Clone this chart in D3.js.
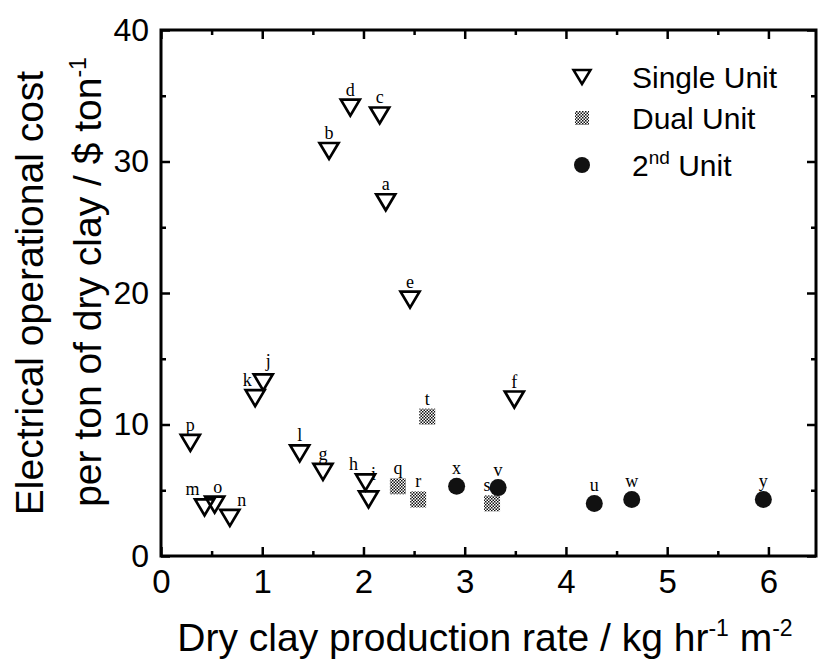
<!DOCTYPE html>
<html>
<head>
<meta charset="utf-8">
<script src="https://cdn.jsdelivr.net/npm/d3@7"></script>
<style>
  body { margin: 0; background: #fff; }
  text { font-family: "Liberation Sans", Arial, sans-serif; fill: #000; }
</style>
</head>
<body>
<div id="chart"></div>
<script>
// values
var singleLabels = ["a", "b", "c", "d", "e", "f", "g", "h", "i", "j", "k", "l", "m", "n", "o", "p"];
var singleX = [2.22, 1.66, 2.16, 1.87, 2.46, 3.49, 1.60, 2.02, 2.05, 1.01, 0.93, 1.37, 0.43, 0.68, 0.53, 0.29];
var singleY = [26.9, 30.8, 33.5, 34.1, 19.5, 11.9, 6.4, 5.6, 4.3, 13.2, 12.0, 7.8, 3.7, 2.9, 3.9, 8.6];

var dualLabels = ["q", "r", "s", "t"];
var dualX = [2.34, 2.54, 3.27, 2.63];
var dualY = [5.3, 4.3, 4.0, 10.6];

var secondLabels = ["u", "v", "w", "x", "y"];
var secondX = [4.28, 3.33, 4.65, 2.92, 5.95];
var secondY = [4.0, 5.2, 4.3, 5.3, 4.3];

var xTicks = [0, 1, 2, 3, 4, 5, 6];
var xMinor = [0.5, 1.5, 2.5, 3.5, 4.5, 5.5];
var yTicks = [0, 10, 20, 30, 40];
var yMinor = [5, 15, 25, 35];

var legendNames = ["Single Unit", "Dual Unit", "2nd Unit"];

// set the dimensions and margins of the graph
var margin = {top: 30, right: 2, bottom: 114, left: 161},
    width = 818 - margin.left - margin.right,
    height = 670 - margin.top - margin.bottom;

var svgRoot = d3.select("#chart")
  .append("svg")
    .attr("width", 818)
    .attr("height", 670);

var defs = svgRoot.append("defs");
var pat = defs.append("pattern")
    .attr("id", "checker")
    .attr("width", 3)
    .attr("height", 3)
    .attr("patternUnits", "userSpaceOnUse");
pat.append("rect").attr("width", 3).attr("height", 3).attr("fill", "#fff");
pat.append("rect").attr("width", 1.5).attr("height", 1.5).attr("fill", "#111");
pat.append("rect").attr("x", 1.5).attr("y", 1.5).attr("width", 1.5).attr("height", 1.5).attr("fill", "#111");

var svg = svgRoot.append("g")
    .attr("transform", "translate(" + margin.left + "," + margin.top + ")");

var x = d3.scaleLinear().domain([0, 6.47]).range([0, width]);
var y = d3.scaleLinear().domain([0, 40]).range([height, 0]);

// axes, ticks pointing inwards on all four sides
function styleAxis(g) {
  g.select(".domain").remove();
  g.selectAll("line").attr("stroke", "#000").attr("stroke-width", 2.5);
}

svg.append("g")
    .attr("transform", "translate(0," + height + ")")
    .call(d3.axisBottom(x).tickValues(xTicks).tickFormat(d3.format("d")).tickSizeInner(-9).tickSizeOuter(0).tickPadding(14))
    .call(styleAxis)
    .selectAll("text").style("font-size", "33px");
svg.append("g")
    .attr("transform", "translate(0," + height + ")")
    .call(d3.axisBottom(x).tickValues(xMinor).tickSizeInner(-5).tickSizeOuter(0).tickFormat(""))
    .call(styleAxis);
svg.append("g")
    .call(d3.axisTop(x).tickValues(xTicks).tickSizeInner(-9).tickSizeOuter(0).tickFormat(""))
    .call(styleAxis);
svg.append("g")
    .call(d3.axisTop(x).tickValues(xMinor).tickSizeInner(-5).tickSizeOuter(0).tickFormat(""))
    .call(styleAxis);

svg.append("g")
    .call(d3.axisLeft(y).tickValues(yTicks).tickSizeInner(-9).tickSizeOuter(0).tickPadding(12))
    .call(styleAxis)
    .selectAll("text").style("font-size", "32px");
svg.append("g")
    .call(d3.axisLeft(y).tickValues(yMinor).tickSizeInner(-5).tickSizeOuter(0).tickFormat(""))
    .call(styleAxis);
svg.append("g")
    .attr("transform", "translate(" + width + ",0)")
    .call(d3.axisRight(y).tickValues(yTicks).tickSizeInner(-9).tickSizeOuter(0).tickFormat(""))
    .call(styleAxis);
svg.append("g")
    .attr("transform", "translate(" + width + ",0)")
    .call(d3.axisRight(y).tickValues(yMinor).tickSizeInner(-5).tickSizeOuter(0).tickFormat(""))
    .call(styleAxis);

// frame
svg.append("rect")
    .attr("width", width)
    .attr("height", height)
    .attr("fill", "none")
    .attr("stroke", "#000")
    .attr("stroke-width", 3);

// axis titles
var xTitle = svgRoot.append("text")
    .attr("x", 485)
    .attr("y", 651)
    .attr("text-anchor", "middle")
    .style("font-size", "39px");
xTitle.append("tspan").text("Dry clay production rate / kg hr");
xTitle.append("tspan").attr("dy", -15).style("font-size", "23px").text("-1");
xTitle.append("tspan").attr("dy", 15).text(" m");
xTitle.append("tspan").attr("dy", -15).style("font-size", "23px").text("-2");

svgRoot.append("text")
    .attr("transform", "translate(43,293) rotate(-90)")
    .attr("text-anchor", "middle")
    .style("font-size", "39px")
    .text("Electrical operational cost");
var yTitle2 = svgRoot.append("text")
    .attr("transform", "translate(101,282) rotate(-90)")
    .attr("text-anchor", "middle")
    .style("font-size", "39px");
yTitle2.append("tspan").text("per ton of dry clay / $ ton");
yTitle2.append("tspan").attr("dy", -15).style("font-size", "23px").text("-1");

// marker shapes
function downTriangle(w, h) {
  return "M" + (-w / 2) + "," + (-h / 2) + "L" + (w / 2) + "," + (-h / 2) + "L0," + (h / 2) + "Z";
}

var singleData = singleLabels.map(function(l, i) { return {label: l, x: singleX[i], y: singleY[i]}; });
var dualData = dualLabels.map(function(l, i) { return {label: l, x: dualX[i], y: dualY[i]}; });
var secondData = secondLabels.map(function(l, i) { return {label: l, x: secondX[i], y: secondY[i]}; });

svg.append("g").selectAll("path")
  .data(singleData)
  .enter().append("path")
    .attr("d", downTriangle(19, 16))
    .attr("transform", function(d) { return "translate(" + x(d.x) + "," + y(d.y) + ")"; })
    .attr("fill", "none")
    .attr("stroke", "#000")
    .attr("stroke-width", 2.7)
    .attr("stroke-linejoin", "miter");

svg.append("g").selectAll("rect")
  .data(dualData)
  .enter().append("rect")
    .attr("x", function(d) { return x(d.x) - 8; })
    .attr("y", function(d) { return y(d.y) - 8; })
    .attr("width", 16)
    .attr("height", 16)
    .attr("fill", "url(#checker)");

svg.append("g").selectAll("circle")
  .data(secondData)
  .enter().append("circle")
    .attr("cx", function(d) { return x(d.x); })
    .attr("cy", function(d) { return y(d.y); })
    .attr("r", 8.5)
    .attr("fill", "#111");

// point letters, a few nudged sideways where they sit off-centre
var nudge = {h: [-12, 0], i: [5, -7], j: [5, -3], k: [-8, 0], m: [-12, 0], n: [12, 0], o: [3, 0], s: [-5, 0]};
var allPoints = singleData.concat(dualData, secondData);
svg.append("g").selectAll("text")
  .data(allPoints)
  .enter().append("text")
    .attr("x", function(d) { return x(d.x) + (nudge[d.label] ? nudge[d.label][0] : 0); })
    .attr("y", function(d) { return y(d.y) - 12 + (nudge[d.label] ? nudge[d.label][1] : 0); })
    .attr("text-anchor", "middle")
    .style("font-family", "'Liberation Serif', serif")
    .style("font-size", "18px")
    .text(function(d) { return d.label; });

// legend
var legend = svgRoot.append("g");
var legendY = [77, 118, 165];
legend.append("path")
    .attr("d", downTriangle(17, 14))
    .attr("transform", "translate(582," + legendY[0] + ")")
    .attr("fill", "none")
    .attr("stroke", "#000")
    .attr("stroke-width", 2.5);
legend.append("rect")
    .attr("x", 582 - 7).attr("y", legendY[1] - 7)
    .attr("width", 14).attr("height", 14)
    .attr("fill", "url(#checker)");
legend.append("circle")
    .attr("cx", 582).attr("cy", legendY[2]).attr("r", 8)
    .attr("fill", "#111");

legend.append("text").attr("x", 632).attr("y", legendY[0] + 11).style("font-size", "30px").text(legendNames[0]);
legend.append("text").attr("x", 632).attr("y", legendY[1] + 11).style("font-size", "30px").text(legendNames[1]);
var l3 = legend.append("text").attr("x", 632).attr("y", legendY[2] + 11).style("font-size", "30px");
l3.append("tspan").text("2");
l3.append("tspan").attr("dy", -12).style("font-size", "19px").text("nd");
l3.append("tspan").attr("dy", 12).text(" Unit");
</script>
</body>
</html>
